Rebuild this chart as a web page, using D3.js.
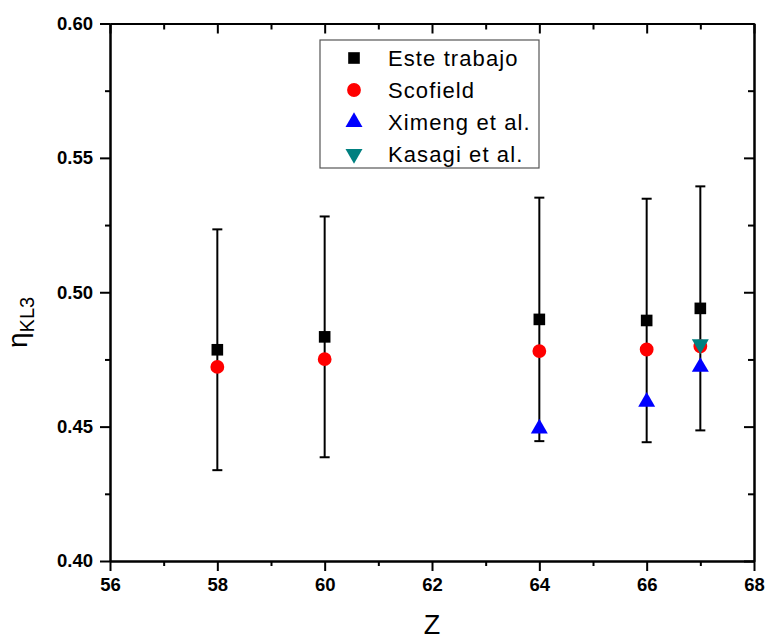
<!DOCTYPE html>
<html>
<head>
<meta charset="utf-8">
<script src="https://cdn.jsdelivr.net/npm/d3@7"></script>
<style>
  body { margin: 0; background: #fff; }
  text { font-family: "Liberation Sans", Arial, sans-serif; }
</style>
</head>
<body>
<div id="chart"></div>
<script>
// datos
const zTrabajo = [58, 60, 64, 66, 67];
const etaTrabajo = [0.4786, 0.4834, 0.4899, 0.4895, 0.4940];
const errTrabajo = [0.0448, 0.0448, 0.0453, 0.0453, 0.0454];

const zScofield = [58, 60, 64, 66, 67];
const etaScofield = [0.4722, 0.4751, 0.4781, 0.4787, 0.4799];

const zXimeng = [64, 66, 67];
const etaXimeng = [0.4493, 0.4592, 0.4722];

const zKasagi = [67];
const etaKasagi = [0.4807];

const xTicks = [56, 58, 60, 62, 64, 66, 68];
const yTicks = [0.40, 0.45, 0.50, 0.55, 0.60];

const legendNames = ["Este trabajo", "Scofield", "Ximeng et al.", "Kasagi et al."];

const width = 767;
const height = 639;
const margin = { top: 23.5, right: 13, bottom: 78, left: 110 };

const svg = d3.select("#chart").append("svg")
  .attr("width", width)
  .attr("height", height);

const x = d3.scaleLinear()
  .domain([56, 68])
  .range([margin.left, width - margin.right]);

const y = d3.scaleLinear()
  .domain([0.40, 0.60])
  .range([height - margin.bottom, margin.top]);

const minorX = d3.range(57, 68, 2);
const minorY = [0.425, 0.475, 0.525, 0.575];

// ejes
const axisBottom = svg.append("g")
  .attr("transform", `translate(0,${y(0.40)})`)
  .call(d3.axisBottom(x).tickValues(xTicks).tickSize(10).tickSizeOuter(0).tickFormat(d3.format("d")));
const axisLeft = svg.append("g")
  .attr("transform", `translate(${x(56)},0)`)
  .call(d3.axisLeft(y).tickValues(yTicks).tickSize(10).tickSizeOuter(0).tickFormat(d3.format(".2f")));
svg.append("g")
  .attr("transform", `translate(0,${y(0.60)})`)
  .call(d3.axisTop(x).tickValues(xTicks).tickSize(-10).tickSizeOuter(0).tickFormat(""));
svg.append("g")
  .attr("transform", `translate(${x(68)},0)`)
  .call(d3.axisRight(y).tickValues(yTicks).tickSize(-10).tickSizeOuter(0).tickFormat(""));

// ticks menores
svg.append("g")
  .attr("transform", `translate(0,${y(0.40)})`)
  .call(d3.axisBottom(x).tickValues(minorX).tickSize(5).tickSizeOuter(0).tickFormat(""));
svg.append("g")
  .attr("transform", `translate(${x(56)},0)`)
  .call(d3.axisLeft(y).tickValues(minorY).tickSize(5).tickSizeOuter(0).tickFormat(""));
svg.append("g")
  .attr("transform", `translate(0,${y(0.60)})`)
  .call(d3.axisTop(x).tickValues(minorX).tickSize(-6).tickSizeOuter(0).tickFormat(""));
svg.append("g")
  .attr("transform", `translate(${x(68)},0)`)
  .call(d3.axisRight(y).tickValues(minorY).tickSize(-6).tickSizeOuter(0).tickFormat(""));

svg.selectAll(".domain, .tick line")
  .attr("stroke", "#000")
  .attr("stroke-width", 2);

axisBottom.selectAll("text")
  .attr("font-size", 18.5)
  .attr("font-weight", "bold")
  .attr("fill", "#000")
  .attr("dy", "0.9em");
axisLeft.selectAll("text")
  .attr("font-size", 18.5)
  .attr("font-weight", "bold")
  .attr("fill", "#000")
  .attr("x", -17);

// titulos
svg.append("text")
  .attr("x", (x(56) + x(68)) / 2)
  .attr("y", 634)
  .attr("text-anchor", "middle")
  .attr("font-size", 27)
  .text("Z");

const yTitle = svg.append("text")
  .attr("transform", `translate(27,348) rotate(-90)`)
  .attr("font-size", 28);
yTitle.append("tspan").text("η");
yTitle.append("tspan")
  .attr("font-size", 20)
  .attr("dy", 7)
  .text("KL3");

// barras de error
const trabajo = zTrabajo.map((z, i) => ({ z, eta: etaTrabajo[i], err: errTrabajo[i] }));
const errG = svg.append("g").attr("stroke", "#000").attr("stroke-width", 2);
trabajo.forEach(d => {
  errG.append("line")
    .attr("x1", x(d.z)).attr("x2", x(d.z))
    .attr("y1", y(d.eta - d.err)).attr("y2", y(d.eta + d.err));
  [d.eta - d.err, d.eta + d.err].forEach(v => {
    errG.append("line")
      .attr("x1", x(d.z) - 5).attr("x2", x(d.z) + 5)
      .attr("y1", y(v)).attr("y2", y(v));
  });
});

const symSquare = d3.symbol().type(d3.symbolSquare).size(135);
const symCircle = d3.symbol().type(d3.symbolCircle).size(150);
const symTri = d3.symbol().type(d3.symbolTriangle).size(125);

svg.append("g").selectAll("path")
  .data(trabajo)
  .join("path")
  .attr("d", symSquare)
  .attr("fill", "#000")
  .attr("transform", d => `translate(${x(d.z)},${y(d.eta)})`);

svg.append("g").selectAll("path")
  .data(zScofield.map((z, i) => ({ z, eta: etaScofield[i] })))
  .join("path")
  .attr("d", symCircle)
  .attr("fill", "#ff0000")
  .attr("transform", d => `translate(${x(d.z)},${y(d.eta)})`);

svg.append("g").selectAll("path")
  .data(zXimeng.map((z, i) => ({ z, eta: etaXimeng[i] })))
  .join("path")
  .attr("d", symTri)
  .attr("fill", "#0000ff")
  .attr("transform", d => `translate(${x(d.z)},${y(d.eta)})`);

svg.append("g").selectAll("path")
  .data(zKasagi.map((z, i) => ({ z, eta: etaKasagi[i] })))
  .join("path")
  .attr("d", symTri)
  .attr("fill", "#008080")
  .attr("transform", d => `translate(${x(d.z)},${y(d.eta)}) rotate(180)`);

// leyenda
const legend = svg.append("g").attr("transform", "translate(320,40)");
legend.append("rect")
  .attr("width", 219)
  .attr("height", 128)
  .attr("fill", "#fff")
  .attr("stroke", "#555")
  .attr("stroke-width", 1.2);

const legendSym = [
  { sym: symSquare, color: "#000", rot: 0 },
  { sym: symCircle, color: "#ff0000", rot: 0 },
  { sym: symTri, color: "#0000ff", rot: 0 },
  { sym: symTri, color: "#008080", rot: 180 }
];

const items = legend.selectAll(".item")
  .data(legendNames)
  .join("g")
  .attr("class", "item")
  .attr("transform", (d, i) => `translate(0,${18 + i * 32})`);

items.append("path")
  .attr("d", (d, i) => legendSym[i].sym())
  .attr("fill", (d, i) => legendSym[i].color)
  .attr("transform", (d, i) => `translate(34,0) rotate(${legendSym[i].rot})`);

items.append("text")
  .attr("x", 68)
  .attr("y", 8)
  .attr("font-size", 22)
  .attr("letter-spacing", 1.1)
  .attr("fill", "#000")
  .text(d => d);
</script>
</body>
</html>
